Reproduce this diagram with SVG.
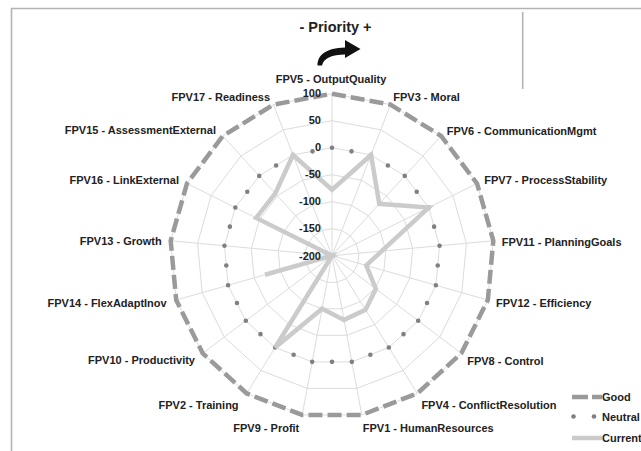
<svg xmlns="http://www.w3.org/2000/svg" width="641" height="451" viewBox="0 0 641 451">
<style>
text{font-family:"Liberation Sans",Arial,sans-serif;font-weight:bold;font-size:11px;fill:#222}
.l{text-anchor:end}.r{text-anchor:start}.c{text-anchor:middle}
.ring{fill:none;stroke:#dcdcdc;stroke-width:1}
.spoke{fill:none;stroke:#dcdcdc;stroke-width:1}
.good{fill:none;stroke:#9a9a9a;stroke-width:4.5;stroke-dasharray:0.733 0.267}
.neutral{fill:none;stroke:#808080;stroke-width:4.6;stroke-linecap:round;stroke-dasharray:0 1}
.current{fill:none;stroke:#cbcbcb;stroke-width:4.5}
.frame{fill:none;stroke:#b3b3b3;stroke-width:1.6}
</style>
<rect width="641" height="451" fill="#fff"/>
<g id="frame">
<path class="frame" d="M11.5 451 V8.5 H641"/>
<line class="frame" x1="522.7" y1="12" x2="522.7" y2="89" stroke-width="1.3"/>
</g>
<g id="title">
<text x="335.5" y="32" class="c" style="font-size:14.5px">- Priority +</text>
<path d="M317.5 65.5 C317.5 55 326 48 345 47.5 L345 40 L360.5 49 L345 58 L345 54.5 C332 54.5 324 58 322 65.5 Z" fill="#111"/>
</g>
<g id="chart" transform="translate(332 255.7)">
<g id="grid">
<polygon class="ring" points="0,-27 9.75,-25.18 18.19,-19.95 24.17,-12.03 26.88,-2.49 25.97,7.39 21.55,16.27 14.21,22.96 4.96,26.54 -4.96,26.54 -14.21,22.96 -21.55,16.27 -25.97,7.39 -26.88,-2.49 -24.17,-12.03 -18.19,-19.95 -9.75,-25.18"/>
<polygon class="ring" points="0,-54 19.51,-50.35 36.38,-39.91 48.34,-24.07 53.77,-4.98 51.94,14.78 43.09,32.54 28.43,45.91 9.92,53.08 -9.92,53.08 -28.43,45.91 -43.09,32.54 -51.94,14.78 -53.77,-4.98 -48.34,-24.07 -36.38,-39.91 -19.51,-50.35"/>
<polygon class="ring" points="0,-81 29.26,-75.53 54.57,-59.86 72.51,-36.1 80.65,-7.47 77.91,22.17 64.64,48.81 42.64,68.87 14.88,79.62 -14.88,79.62 -42.64,68.87 -64.64,48.81 -77.91,22.17 -80.65,-7.47 -72.51,-36.1 -54.57,-59.86 -29.26,-75.53"/>
<polygon class="ring" points="0,-108 39.01,-100.71 72.76,-79.81 96.68,-48.14 107.54,-9.97 103.88,29.56 86.19,65.08 56.85,91.82 19.85,106.16 -19.85,106.16 -56.85,91.82 -86.19,65.08 -103.88,29.56 -107.54,-9.97 -96.68,-48.14 -72.76,-79.81 -39.01,-100.71"/>
<polygon class="ring" points="0,-135 48.77,-125.88 90.95,-99.77 120.85,-60.17 134.42,-12.46 129.85,36.94 107.73,81.36 71.07,114.78 24.81,132.7 -24.81,132.7 -71.07,114.78 -107.73,81.36 -129.85,36.94 -134.42,-12.46 -120.85,-60.17 -90.95,-99.77 -48.77,-125.88"/>
<polygon class="ring" points="0,-162 58.52,-151.06 109.14,-119.72 145.02,-72.21 161.31,-14.95 155.82,44.33 129.28,97.63 85.28,137.74 29.77,159.24 -29.77,159.24 -85.28,137.74 -129.28,97.63 -155.82,44.33 -161.31,-14.95 -145.02,-72.21 -109.14,-119.72 -58.52,-151.06"/>
<path class="spoke" d="M0 0L0 -162M0 0L58.52 -151.06M0 0L109.14 -119.72M0 0L145.02 -72.21M0 0L161.31 -14.95M0 0L155.82 44.33M0 0L129.28 97.63M0 0L85.28 137.74M0 0L29.77 159.24M0 0L-29.77 159.24M0 0L-85.28 137.74M0 0L-129.28 97.63M0 0L-155.82 44.33M0 0L-161.31 -14.95M0 0L-145.02 -72.21M0 0L-109.14 -119.72M0 0L-58.52 -151.06"/>
</g>
<g id="series">
<polygon id="good" class="good" pathLength="53" points="0,-162 58.52,-151.06 109.14,-119.72 145.02,-72.21 161.31,-14.95 155.82,44.33 129.28,97.63 85.28,137.74 29.77,159.24 -29.77,159.24 -85.28,137.74 -129.28,97.63 -155.82,44.33 -161.31,-14.95 -145.02,-72.21 -109.14,-119.72 -58.52,-151.06"/>
<polygon id="neutral" class="neutral" pathLength="34" points="0,-108 39.01,-100.71 72.76,-79.81 96.68,-48.14 107.54,-9.97 103.88,29.56 86.19,65.08 56.85,91.82 19.85,106.16 -19.85,106.16 -56.85,91.82 -86.19,65.08 -103.88,29.56 -107.54,-9.97 -96.68,-48.14 -72.76,-79.81 -39.01,-100.71"/>
<polygon id="current" class="current" points="0,-65.9 39.01,-100.71 47.29,-51.88 96.68,-48.14 49.72,-4.61 34.24,9.74 43.89,33.14 33.53,54.16 12,64.19 -9.92,53.08 -56.85,91.82 0,0 -67.04,19.07 0,0 -75.91,-37.8 -56.73,-62.22 -39.01,-100.71"/>
</g>
<g id="ticks" class="l">
<text x="-11" y="-158.7">100</text>
<text x="-11" y="-131.7">50</text>
<text x="-11" y="-104.7">0</text>
<text x="-11" y="-77.7">-50</text>
<text x="-11" y="-50.7">-100</text>
<text x="-11" y="-23.7">-150</text>
<text x="-11" y="3.8">-200</text>
</g>
</g>
<g id="labels">
<text id="fpv5" class="c" x="331" y="83">FPV5 - OutputQuality</text>
<text id="fpv3" class="r" x="393.3" y="101">FPV3 - Moral</text>
<text id="fpv6" class="r" x="446.7" y="135">FPV6 - CommunicationMgmt</text>
<text id="fpv7" class="r" x="484.3" y="184">FPV7 - ProcessStability</text>
<text id="fpv11" class="r" x="501.7" y="245.5">FPV11 - PlanningGoals</text>
<text id="fpv12" class="r" x="496" y="306.7">FPV12 - Efficiency</text>
<text id="fpv8" class="r" x="467.2" y="365">FPV8 - Control</text>
<text id="fpv4" class="r" x="421.4" y="408.5">FPV4 - ConflictResolution</text>
<text id="fpv1" class="r" x="362.8" y="431.5">FPV1 - HumanResources</text>
<text id="fpv9" class="l" x="299.3" y="431.5">FPV9 - Profit</text>
<text id="fpv2" class="l" x="238.6" y="408.5">FPV2 - Training</text>
<text id="fpv10" class="l" x="195" y="364">FPV10 - Productivity</text>
<text id="fpv14" class="l" x="166.7" y="306.7">FPV14 - FlexAdaptInov</text>
<text id="fpv13" class="l" x="161.7" y="245">FPV13 - Growth</text>
<text id="fpv16" class="l" x="179" y="183.5">FPV16 - LinkExternal</text>
<text id="fpv15" class="l" x="216" y="134">FPV15 - AssessmentExternal</text>
<text id="fpv17" class="l" x="270" y="101">FPV17 - Readiness</text>
</g>
<g id="legend">
<line x1="572" y1="397" x2="602" y2="397" stroke="#9a9a9a" stroke-width="4.5" stroke-dasharray="16 4"/>
<text x="602" y="401">Good</text>
<circle cx="573.5" cy="416.5" r="2.3" fill="#808080"/>
<circle cx="594" cy="416.5" r="2.3" fill="#808080"/>
<text x="602" y="420.5">Neutral</text>
<line x1="572" y1="438" x2="602" y2="438" stroke="#cbcbcb" stroke-width="4.5"/>
<text x="602" y="442">Current</text>
</g>
</svg>
